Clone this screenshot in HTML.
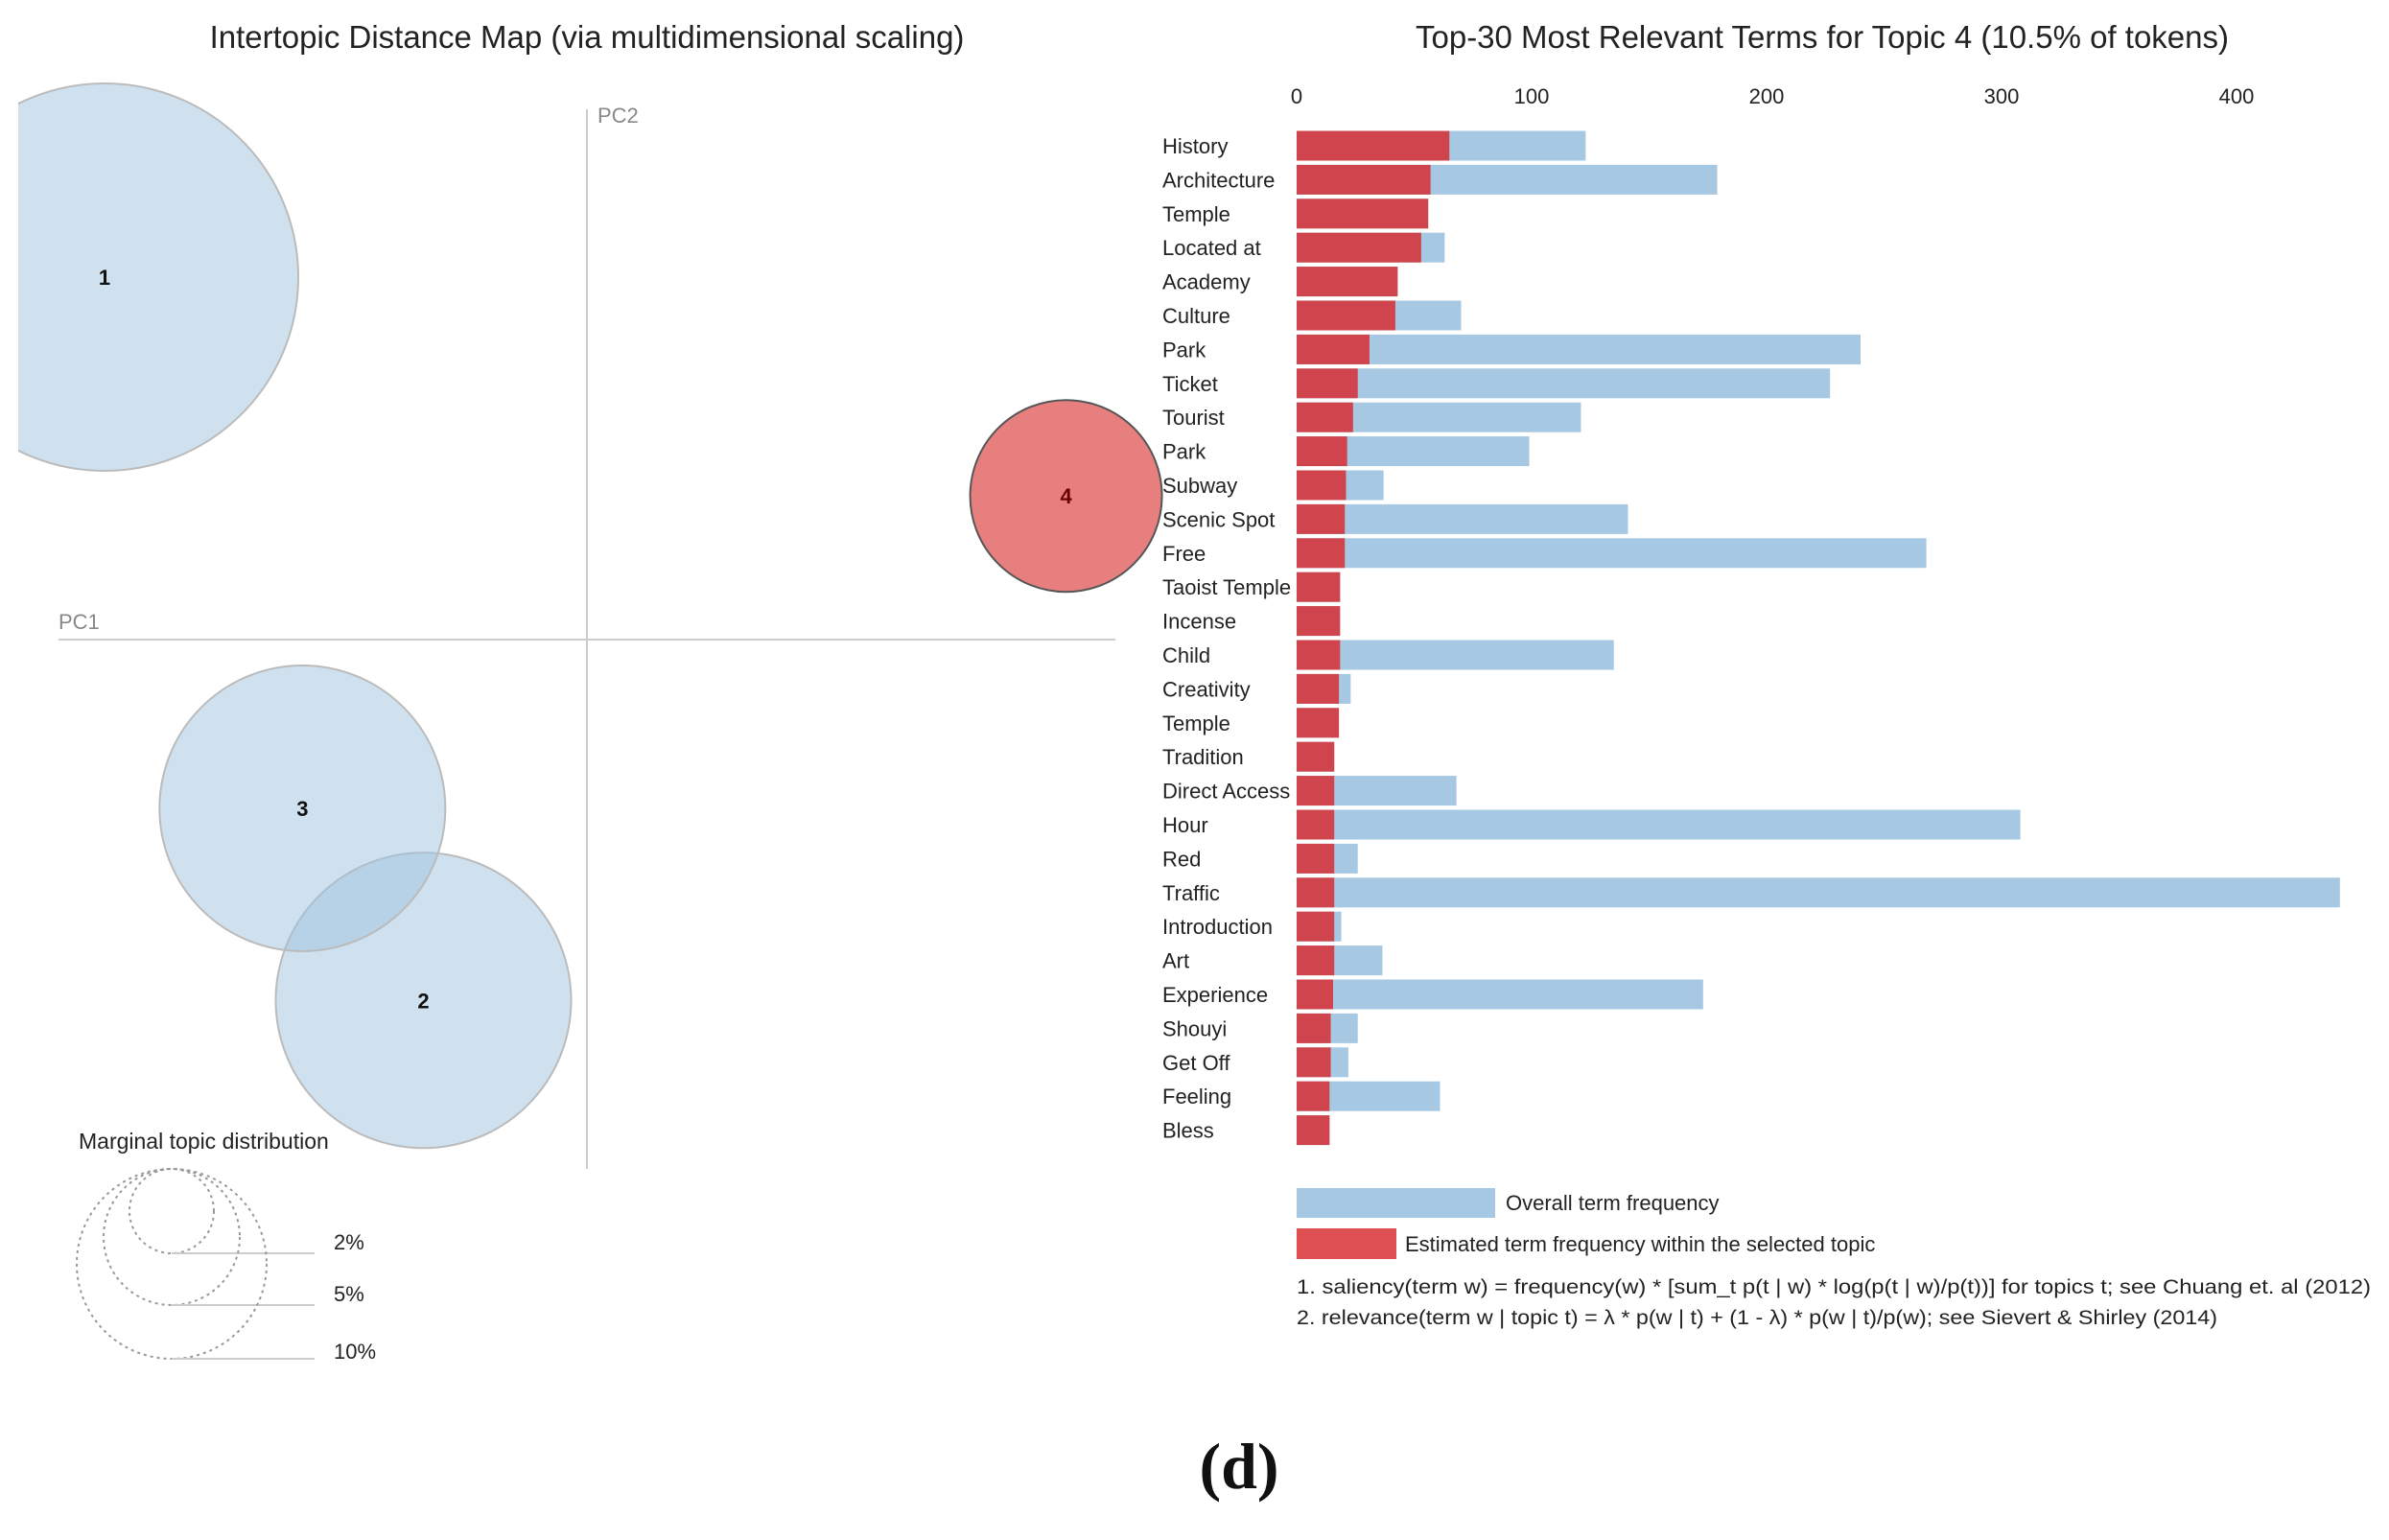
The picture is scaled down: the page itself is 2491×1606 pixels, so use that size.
<!DOCTYPE html>
<html><head><meta charset="utf-8">
<style>
html,body{margin:0;padding:0;background:#fff;}
svg{display:block;font-family:"Liberation Sans",sans-serif;}
</style></head>
<body>
<svg id="chart" width="2491" height="1606" viewBox="0 0 2491 1606" xmlns="http://www.w3.org/2000/svg">
<defs><clipPath id="leftclip"><rect x="19" y="60" width="1200" height="1200"/></clipPath></defs>
<text x="612" y="50" text-anchor="middle" font-size="33" fill="#222">Intertopic Distance Map (via multidimensional scaling)</text>
<line x1="612" y1="114" x2="612" y2="1219" stroke="#ccc" stroke-width="2"/>
<line x1="61" y1="667" x2="1163" y2="667" stroke="#ccc" stroke-width="2"/>
<text x="623" y="128" font-size="22" fill="#888">PC2</text>
<text x="61" y="656" font-size="22" fill="#888">PC1</text>
<g id="topics" clip-path="url(#leftclip)"></g>
<text x="82" y="1198" font-size="23" fill="#222">Marginal topic distribution</text>
<g id="marginal"></g>
<text x="1900" y="50" text-anchor="middle" font-size="33" fill="#222">Top-30 Most Relevant Terms for Topic 4 (10.5% of tokens)</text>
<g id="xaxis"></g>
<g id="bars"></g>
<rect x="1352" y="1239" width="207" height="31" fill="#a6c8e2"/>
<text x="1570" y="1262" font-size="22" fill="#222">Overall term frequency</text>
<rect x="1352" y="1281" width="104" height="32" fill="#de4f52"/>
<text x="1465" y="1305" font-size="22" fill="#222">Estimated term frequency within the selected topic</text>
<text x="1352" y="1349" font-size="21" fill="#222" textLength="1120" lengthAdjust="spacingAndGlyphs">1. saliency(term w) = frequency(w) * [sum_t p(t | w) * log(p(t | w)/p(t))] for topics t; see Chuang et. al (2012)</text>
<text x="1352" y="1381" font-size="21" fill="#222" textLength="960" lengthAdjust="spacingAndGlyphs">2. relevance(term w | topic t) = λ * p(w | t) + (1 - λ) * p(w | t)/p(w); see Sievert &amp; Shirley (2014)</text>
<text x="1292" y="1552" text-anchor="middle" font-size="68" font-weight="bold" font-family="Liberation Serif, serif" fill="#111">(d)</text>
</svg>
<script>
const NS="http://www.w3.org/2000/svg";
const terms=["History","Architecture","Temple","Located at","Academy","Culture","Park","Ticket","Tourist","Park","Subway","Scenic Spot","Free","Taoist Temple","Incense","Child","Creativity","Temple","Tradition","Direct Access","Hour","Red","Traffic","Introduction","Art","Experience","Shouyi","Get Off","Feeling","Bless"];
const overallFreq=[123,179,56,63,43,70,240,227,121,99,37,141,268,18.5,18.5,135,23,18,16,68,308,26,444,19,36.5,173,26,22,61,14];
const topicFreq=[65,57,56,53,43,42,31,26,24,21.5,21,20.5,20.5,18.5,18.5,18.5,18,18,16,16,16,16,16,16,16,15.5,14.5,14.5,14,14];
const xTicks=[0,100,200,300,400];
const topicIds=["1","2","3","4"];
const topicPC1=[-0.295,-0.100,-0.174,0.293];
const topicPC2=[0.217,-0.216,-0.101,0.086];
const topicSize=[202,154,149,100];
const marginalPct=["2%","5%","10%"];
const marginalR=[44,71,99];

function el(t,a,p){const e=document.createElementNS(NS,t);for(const k in a)e.setAttribute(k,a[k]);p.appendChild(e);return e;}
const xS=v=>1352+v*2.45;
const yS=i=>152+i*35.4;
const bh=31;
const pcX=v=>612+v*1705;
const pcY=v=>667-v*1742;

const xa=document.getElementById('xaxis');
xTicks.forEach(t=>{const e=el('text',{x:xS(t),y:108,'text-anchor':'middle','font-size':22,fill:'#222'},xa);e.textContent=t;

});

const bg=document.getElementById('bars');
terms.forEach((t,i)=>{
 const y=yS(i)-bh/2;
 const b=el('rect',{x:xS(0),y:y,width:xS(overallFreq[i])-xS(0),height:bh,fill:'#a6c8e2'},bg);
 
 
 const r=el('rect',{x:xS(0),y:y,width:xS(topicFreq[i])-xS(0),height:bh,fill:'#cf444d'},bg);
 
 
 const tx=el('text',{x:1212,y:yS(i)+8,'font-size':22,fill:'#222'},bg);tx.textContent=t;
 
 
});

const tg=document.getElementById('topics');
topicIds.forEach((id,i)=>{
 const sel=id==="4";
 const c=el('circle',{cx:pcX(topicPC1[i]),cy:pcY(topicPC2[i]),r:topicSize[i],fill:sel?'rgba(222,72,72,0.7)':'rgba(160,196,224,0.5)',stroke:sel?'#555':'#bbb','stroke-width':2},tg);
 
 
});
topicIds.forEach((id,i)=>{
 const t=el('text',{x:pcX(topicPC1[i]),y:pcY(topicPC2[i])+8,'text-anchor':'middle','font-size':22,'font-weight':'bold',fill:id==="4"?'#6b0000':'#111'},tg);t.textContent=id;
 
 
});

const mg=document.getElementById('marginal');
marginalPct.forEach((p,i)=>{
 const r=marginalR[i];
 const c=el('circle',{cx:179,cy:1219+r,r:r,fill:'none',stroke:'#999','stroke-width':2,'stroke-dasharray':'3,4'},mg);
 
 
 const yb=1219+2*r;
 const l=el('line',{x1:179,y1:yb,x2:328,y2:yb,stroke:'#ccc','stroke-width':2},mg);
 
 
 const t=el('text',{x:348,y:yb-(i==2?0:4),'font-size':22,fill:'#222'},mg);t.textContent=p;
 
 
});
</script>
</body></html>
